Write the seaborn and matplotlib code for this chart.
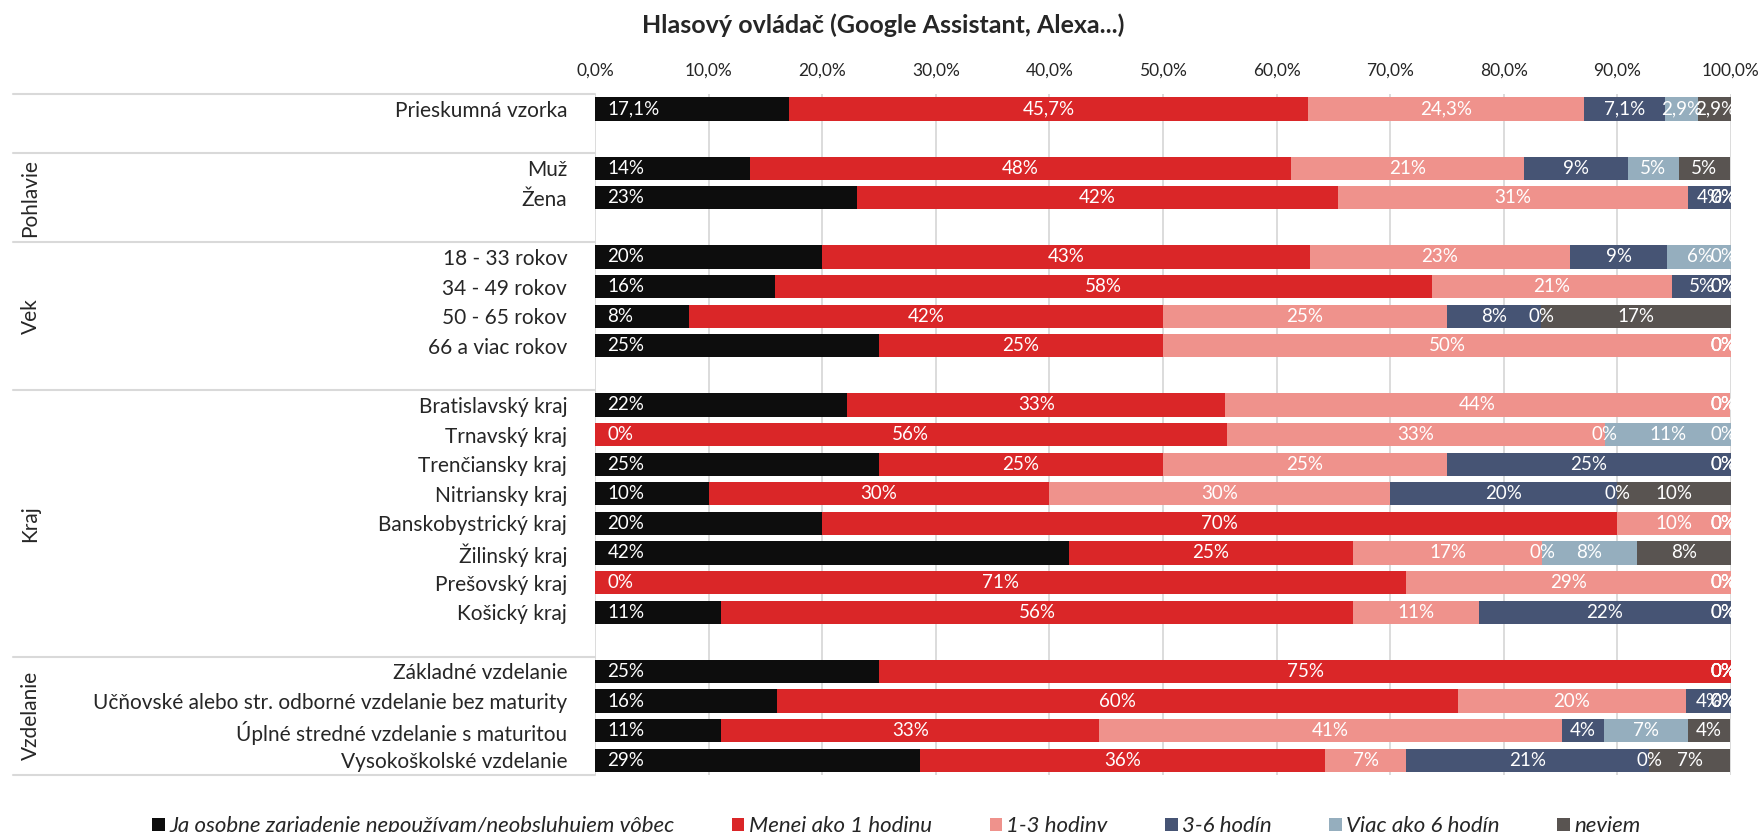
import numpy as np
import pandas as pd
import seaborn as sns
import matplotlib.pyplot as plt
from matplotlib.patches import Patch

# Groups and their rows (order top to bottom)
groups = ["", "Pohlavie", "Vek", "Kraj", "Vzdelanie"]
group_rows = [
    ["Prieskumná vzorka"],
    ["Muž", "Žena"],
    ["18 - 33 rokov", "34 - 49 rokov", "50 - 65 rokov", "66 a viac rokov"],
    ["Bratislavský kraj", "Trnavský kraj", "Trenčiansky kraj", "Nitriansky kraj",
     "Banskobystrický kraj", "Žilinský kraj", "Prešovský kraj", "Košický kraj"],
    ["Základné vzdelanie", "Učňovské alebo str. odborné vzdelanie bez maturity",
     "Úplné stredné vzdelanie s maturitou", "Vysokoškolské vzdelanie"],
]

series = ["Ja osobne zariadenie nepoužívam/neobsluhujem vôbec", "Menej ako 1 hodinu",
          "1-3 hodiny", "3-6 hodín", "Viac ako 6 hodín", "neviem"]

# values in %, one per row
nepouzivam = [17.1, 13.6, 23.1, 20.0, 15.8, 8.3, 25.0, 22.2, 0.0, 25.0, 10.0, 20.0, 41.7, 0.0, 11.1, 25.0, 16.0, 11.1, 28.6]
menej_1h = [45.7, 47.7, 42.3, 42.9, 57.9, 41.7, 25.0, 33.3, 55.6, 25.0, 30.0, 70.0, 25.0, 71.4, 55.6, 75.0, 60.0, 33.3, 35.7]
h1_3 = [24.3, 20.5, 30.8, 22.9, 21.1, 25.0, 50.0, 44.4, 33.3, 25.0, 30.0, 10.0, 16.7, 28.6, 11.1, 0.0, 20.0, 40.7, 7.1]
h3_6 = [7.1, 9.1, 3.8, 8.6, 5.3, 8.3, 0.0, 0.0, 0.0, 25.0, 20.0, 0.0, 0.0, 0.0, 22.2, 0.0, 4.0, 3.7, 21.4]
viac_6h = [2.9, 4.5, 0.0, 5.7, 0.0, 0.0, 0.0, 0.0, 11.1, 0.0, 0.0, 0.0, 8.3, 0.0, 0.0, 0.0, 0.0, 7.4, 0.0]
neviem = [2.9, 4.5, 0.0, 0.0, 0.0, 16.7, 0.0, 0.0, 0.0, 0.0, 10.0, 0.0, 8.3, 0.0, 0.0, 0.0, 0.0, 3.7, 7.1]

colors = ["#0d0d0d", "#da2628", "#ef928c", "#465474", "#95aebe", "#595451"]

# Build the category order with an empty slot after each group
order = []
rows = []
for i, g in enumerate(group_rows):
    order += g
    rows += g
    if i < len(group_rows) - 1:
        order.append(" " * (i + 1))

vals = np.array([nepouzivam, menej_1h, h1_3, h3_6, viac_6h, neviem])
cum = np.cumsum(vals, axis=0)

df = pd.DataFrame({"kategoria": rows})
for k in range(len(series)):
    df[f"c{k}"] = cum[k]

sns.set_style("white")
plt.rcParams["font.family"] = ["Lato", "DejaVu Sans"]

fig = plt.figure(figsize=(17.62, 8.32), dpi=100)
ax = fig.add_axes([0.3377, 0.0685, 0.6447, 0.8183])

# stacked bars: draw cumulative sums from the last series back to the first
for k in range(len(series) - 1, -1, -1):
    sns.barplot(data=df, x=f"c{k}", y="kategoria", order=order, orient="h",
                color=colors[k], saturation=1, width=0.78, linewidth=0, ax=ax)

ax.set_xlim(0, 100)
ax.set_ylim(len(order) - 0.5, -0.5)
ax.xaxis.tick_top()
ax.set_xticks(range(0, 101, 10))
ax.set_xticklabels([f"{v},0%" for v in range(0, 101, 10)])
ax.tick_params(axis="x", length=0, pad=11, labelsize=12.5)
ax.tick_params(axis="y", length=0, pad=20, labelsize=15)
ax.set_xlabel("")
ax.set_ylabel("")
ax.grid(axis="x", color="#d9d9d9", linewidth=1.3)
ax.set_axisbelow(True)
for s in ax.spines.values():
    s.set_visible(False)

# data labels
ypos = {c: i for i, c in enumerate(order)}
for j, cat in enumerate(rows):
    y = ypos[cat]
    start = 0.0
    for k in range(len(series)):
        v = vals[k, j]
        if j == 0:
            txt = f"{v:.1f}%".replace(".", ",")
        else:
            txt = f"{int(v + 0.5)}%"
        if k == 0:
            ax.text(1.1, y, txt, ha="left", va="center", color="white",
                    fontsize=13.5, clip_on=True)
        else:
            xc = start + v / 2
            if xc > 98.5:
                ax.text(100.5, y, txt, ha="right", va="center", color="white",
                        fontsize=13.5, clip_on=True)
            else:
                ax.text(xc, y, txt, ha="center", va="center", color="white",
                        fontsize=13.5, clip_on=True)
        start += v

# group separators and group labels on the left
trans = ax.get_yaxis_transform()
bounds = [-0.5]
pos = -0.5
for i, g in enumerate(group_rows):
    pos += len(g) + (1 if i < len(group_rows) - 1 else 0)
    bounds.append(pos)
for b in bounds:
    ax.plot([-0.512, 0], [b, b], color="#d9d9d9", linewidth=1.5,
            transform=trans, clip_on=False)
for i, g in enumerate(groups):
    if g:
        ax.text(-0.497, (bounds[i] + bounds[i + 1]) / 2, g, rotation=90,
                ha="center", va="center", fontsize=15, transform=trans)

fig.text(0.501, 0.9603, "Hlasový ovládač (Google Assistant, Alexa...)",
         ha="center", va="baseline", fontsize=18, fontweight="bold")

handles = [Patch(facecolor=c, edgecolor="none") for c in colors]
fig.legend(handles, series, loc="center", bbox_to_anchor=(0.5087, 0.007),
           ncol=6, frameon=False, handlelength=0.55, handleheight=0.55,
           handletextpad=0.2, columnspacing=2.6,
           prop={"size": 16, "style": "italic"})

fig.savefig("out.png", dpi=100)
